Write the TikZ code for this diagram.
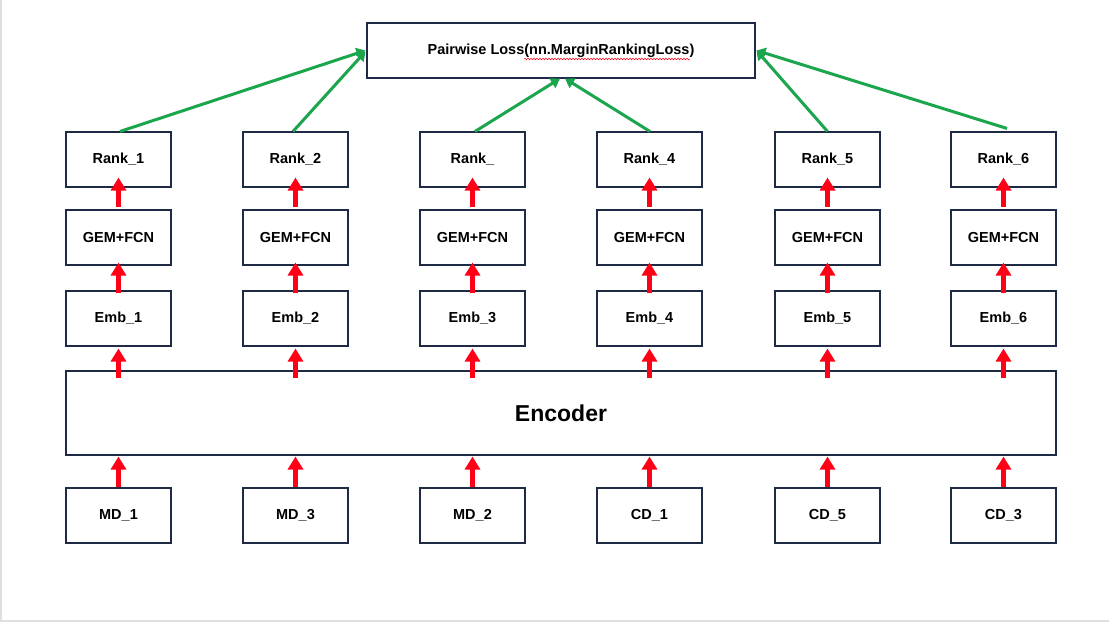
\documentclass[tikz,border=0pt]{standalone}
\usepackage{fontspec}
\setmainfont{Liberation Sans}
\usetikzlibrary{arrows.meta,decorations.pathmorphing}
\definecolor{boxline}{HTML}{1F2A44}
\definecolor{arrgreen}{HTML}{1BA64E}
\definecolor{arrred}{HTML}{FF0016}
\tikzset{
  box/.style={draw=boxline,line width=1.1pt,fill=white,minimum width=105pt,minimum height=55pt,inner sep=0pt,font=\fontsize{14.5}{17}\selectfont\bfseries},
  redarrow/.style={draw=arrred,line width=5.5pt,-{Triangle[width=15pt,length=13pt]}},
  greenarrow/.style={draw=arrgreen,line width=3pt,-{Triangle[width=11pt,length=9pt]}},
}
\begin{document}
\begin{tikzpicture}[x=1pt,y=-1pt]
\useasboundingbox (0,0) rectangle (1109,622);
\fill[white] (0,0) rectangle (1109,622);
\fill[gray!25] (0,0) rectangle (1.8,622);
\fill[gray!25] (0,619.5) rectangle (1109,622);

\node[box,minimum width=388pt] (loss) at (561,50.5) {Pairwise Loss(nn.MarginRankingLoss)};
\draw[arrred,line width=0.5pt,decorate,decoration={snake,amplitude=0.8pt,segment length=3pt}] (524,59) -- (690,59);

\node[box,minimum width=990pt,minimum height=84pt,font=\fontsize{23}{27}\selectfont\bfseries] (enc) at (561,413) {Encoder};

\foreach \i/\x/\r/\e/\m in {1/118.5/Rank\_1/Emb\_1/MD\_1, 2/295.5/Rank\_2/Emb\_2/MD\_3, 3/472.5/Rank\_/Emb\_3/MD\_2, 4/649.5/Rank\_4/Emb\_4/CD\_1, 5/827.5/Rank\_5/Emb\_5/CD\_5, 6/1003.5/Rank\_6/Emb\_6/CD\_3}{
  \node[box] (rank\i) at (\x,159.5) {\r};
  \node[box] (gem\i) at (\x,237.5) {GEM+FCN};
  \node[box] (emb\i) at (\x,318.5) {\e};
  \node[box] (md\i) at (\x,515.5) {\m};
  \draw[redarrow] ([yshift=2pt]gem\i.north) -- ([yshift=10pt]rank\i.south);
  \draw[redarrow] ([yshift=-3pt]emb\i.north) -- ([yshift=3pt]gem\i.south);
  \draw[redarrow] ([yshift=-8pt]emb\i.south |- enc.north) -- ([yshift=-2pt]emb\i.south);
  \draw[redarrow] (md\i.north) -- ([yshift=-1pt]md\i.north |- enc.south);
}

\draw[greenarrow] ([xshift=1.5pt]rank1.north) -- ([xshift=-1pt]loss.west);
\draw[greenarrow] ([xshift=-2.5pt]rank2.north) -- ([xshift=-1pt,yshift=-1pt]loss.west);
\draw[greenarrow] ([xshift=2.5pt]rank3.north) -- ([xshift=-1pt]loss.south);
\draw[greenarrow] ([xshift=0.5pt]rank4.north) -- ([xshift=4pt]loss.south);
\draw[greenarrow] (rank5.north) -- ([xshift=1pt]loss.east);
\draw[greenarrow] ([xshift=3.5pt,yshift=3pt]rank6.north) -- ([xshift=1pt]loss.east);
\end{tikzpicture}
\end{document}
